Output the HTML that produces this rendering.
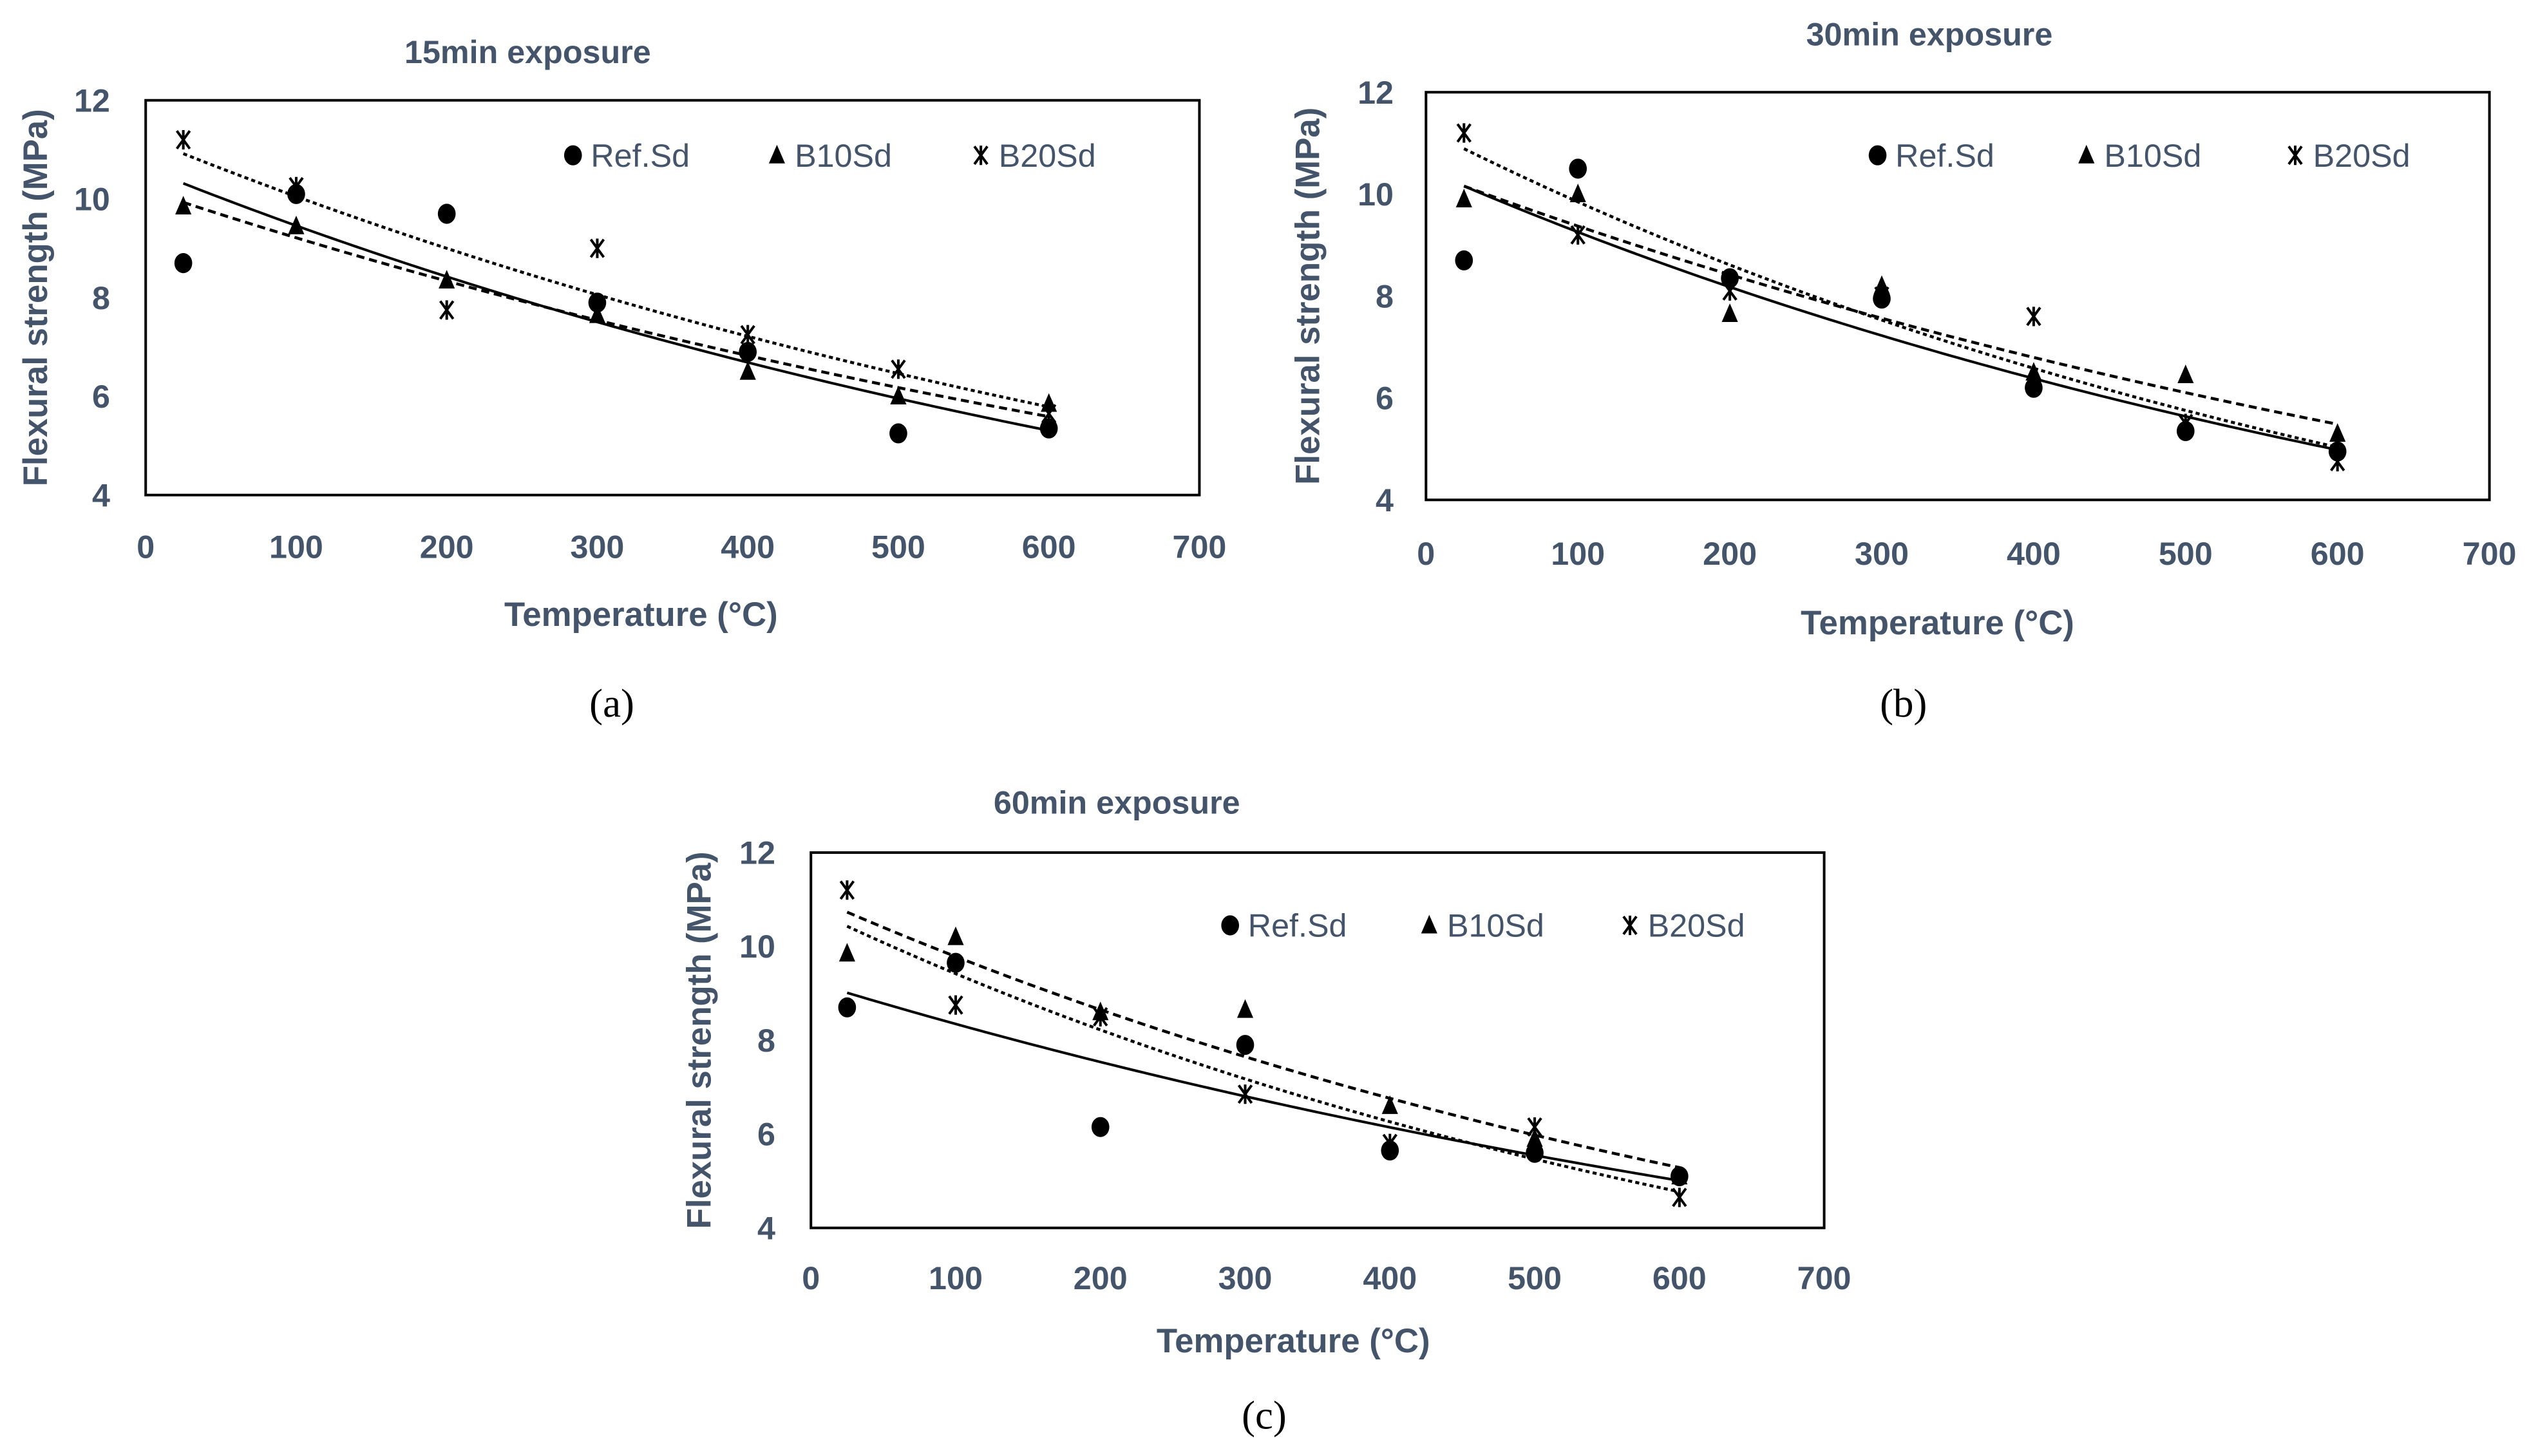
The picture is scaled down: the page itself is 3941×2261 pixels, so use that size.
<!DOCTYPE html>
<html><head><meta charset="utf-8"><style>
html,body{margin:0;padding:0;background:#fff;}
svg{display:block;}
</style></head><body>
<svg id="fig" width="3941" height="2261" viewBox="0 0 1568 900" preserveAspectRatio="none" xmlns="http://www.w3.org/2000/svg" font-family="Liberation Sans, sans-serif"></svg>
<script>
const xVals = [25, 100, 200, 300, 400, 500, 600];
const xTicks = [0, 100, 200, 300, 400, 500, 600, 700];
const yTicks = [4, 6, 8, 10, 12];
const seriesNames = ["Ref.Sd", "B10Sd", "B20Sd"];
const aRef = [8.7, 10.1, 9.7, 7.9, 6.9, 5.25, 5.35];
const aB10 = [9.85, 9.45, 8.35, 7.65, 6.5, 6.0, 5.85];
const aB20 = [11.2, 10.25, 7.75, 9.0, 7.25, 6.55, 5.65];
const bRef = [8.7, 10.5, 8.35, 7.95, 6.2, 5.35, 4.95];
const bB10 = [9.9, 10.0, 7.65, 8.2, 6.5, 6.45, 5.3];
const bB20 = [11.2, 9.2, 8.1, 8.0, 7.6, 5.5, 4.75];
const cRef = [8.7, 9.65, 6.15, 7.9, 5.65, 5.6, 5.1];
const cB10 = [9.85, 10.2, 8.6, 8.65, 6.6, 5.9, 5.1];
const cB20 = [11.2, 8.75, 8.5, 6.85, 5.8, 6.15, 4.65];

const NS = "http://www.w3.org/2000/svg";
const svg = document.getElementById('fig');
const COL = "#44546a";
function mk(tag, attrs, parent) {
  const e = document.createElementNS(NS, tag);
  for (const k in attrs) e.setAttribute(k, attrs[k]);
  (parent || svg).appendChild(e);
  return e;
}
function txt(s, attrs, parent) { const t = mk('text', attrs, parent); t.textContent = s; return t; }

const charts = [
  {id:'a', title:'15min exposure', L:90, R:741, T:62, B:306, tx:326, ty:39, ytl:68, xly:345, xtx:396, xty:387, yax:29, sub:'(a)', subx:378, suby:443,
   leg:[354,480,606], legy:96, data:[aRef,aB10,aB20]},
  {id:'b', title:'30min exposure', L:881, R:1538, T:57, B:309, tx:1192, ty:28, ytl:861, xly:349, xtx:1197, xty:392, yax:815, sub:'(b)', subx:1176, suby:443,
   leg:[1160,1289,1418], legy:96, data:[bRef,bB10,bB20]},
  {id:'c', title:'60min exposure', L:501, R:1127, T:527, B:759, tx:690, ty:503, ytl:479, xly:797, xtx:799, xty:836, yax:439, sub:'(c)', subx:781, suby:883,
   leg:[760,883,1007], legy:572, data:[cRef,cB10,cB20]}
];

function expFit(xs, ys) {
  const n = xs.length; let sx=0, sy=0, sxx=0, sxy=0;
  for (let i=0;i<n;i++){ const ly=Math.log(ys[i]); sx+=xs[i]; sy+=ly; sxx+=xs[i]*xs[i]; sxy+=xs[i]*ly; }
  const b=(n*sxy-sx*sy)/(n*sxx-sx*sx); const a=Math.exp((sy-b*sx)/n);
  return x=>a*Math.exp(b*x);
}
function marker(kind, cx, cy, g) {
  let e;
  if (kind===0) e = mk('ellipse',{cx:cx,cy:cy,rx:5.5,ry:6.2,fill:'#000'},g);
  else if (kind===1) e = mk('polygon',{points:`${cx},${cy-6.5} ${cx-5},${cy+5} ${cx+5},${cy+5}`,fill:'#000'},g);
  else e = mk('path',{d:`M${cx-4},${cy-5.5}L${cx+4},${cy+5.5}M${cx+4},${cy-5.5}L${cx-4},${cy+5.5}M${cx},${cy-6}L${cx},${cy+6}`,stroke:'#000','stroke-width':1.6,fill:'none'},g);
  return e;
}
const dashes = [null, '5,3', '2.5,2'];

charts.forEach(c => {
  const g = mk('g',{});
  
  
  const sx = v => c.L + (v-0)/(700-0)*(c.R-c.L);
  const sy = v => c.B - (v-4)/(12-4)*(c.B-c.T);
  const t = txt(c.title,{x:c.tx,y:c.ty,'text-anchor':'middle','font-size':20,'font-weight':'bold',fill:COL},g);
  
  
  const box = mk('rect',{x:c.L,y:c.T,width:c.R-c.L,height:c.B-c.T,fill:'none',stroke:'#000','stroke-width':1.6},g);
  
  
  yTicks.forEach(v => {
    const e = txt(String(v),{x:c.ytl,y:sy(v)+7,'text-anchor':'end','font-size':20,'font-weight':'bold',fill:COL},g);
    
    
  });
  xTicks.forEach(v => {
    const e = txt(String(v),{x:sx(v),y:c.xly,'text-anchor':'middle','font-size':20,'font-weight':'bold',fill:COL},g);
    
    
  });
  const xt = txt('Temperature (°C)',{x:c.xtx,y:c.xty,'text-anchor':'middle','font-size':21,'font-weight':'bold',fill:COL},g);
  
  
  const ym = (c.T+c.B)/2;
  const yt = txt('Flexural strength (MPa)',{x:c.yax,y:ym,'text-anchor':'middle','font-size':21,'font-weight':'bold',fill:COL,transform:`rotate(-90 ${c.yax} ${ym})`},g);
  
  
  const sub = txt(c.sub,{x:c.subx,y:c.suby,'text-anchor':'middle','font-size':25,fill:'#000',style:'font-family:"Liberation Serif",serif'},g);
  
  
  c.data.forEach((ys,si) => {
    const f = expFit(xVals, ys);
    let d = '';
    for (let x=xVals[0]; x<=xVals[xVals.length-1]; x+=5) d += (d?'L':'M') + sx(x).toFixed(2) + ',' + sy(f(x)).toFixed(2);
    const p = mk('path',{d:d,fill:'none',stroke:'#000','stroke-width':si===0?1.6:1.8},g);
    if (dashes[si]) p.setAttribute('stroke-dasharray', dashes[si]);
    
    
  });
  c.data.forEach((ys,si) => {
    ys.forEach((v,i) => {
      const m = marker(si, sx(xVals[i]), sy(v), g);
      
      
    });
  });
  c.leg.forEach((lx,si) => {
    const m = marker(si, lx, c.legy, g);
    
    
    const e = txt(seriesNames[si],{x:lx+11,y:c.legy+7,'font-size':20,fill:COL},g);
    
    
  });
});
</script>
</body></html>
